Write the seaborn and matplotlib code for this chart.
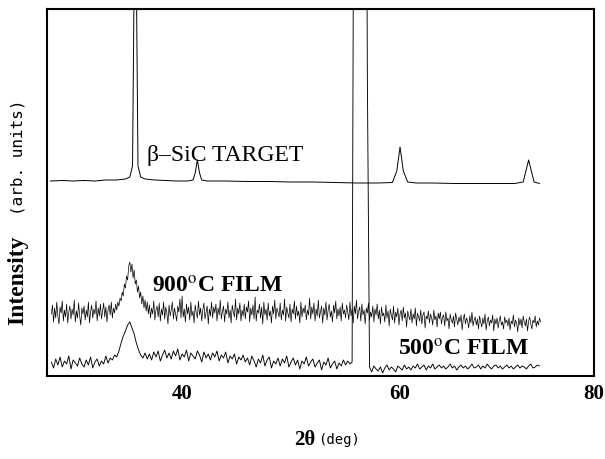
import numpy as np
import matplotlib
matplotlib.use("Agg")
import matplotlib.pyplot as plt
import seaborn as sns

# beta-SiC target pattern (offset baseline ~195)
target_2theta = [27.9, 29.0, 30.0, 31.0, 32.0, 33.0, 34.0, 34.8, 35.2, 35.45, 35.6, 35.7,
                 35.8, 35.95, 36.2, 36.6, 37.5, 38.5, 39.5, 40.5, 41.0, 41.2, 41.4, 41.6,
                 41.8, 42.3, 44.0, 46.0, 48.0, 50.0, 52.0, 54.0, 56.0, 58.0, 59.3, 59.7,
                 60.0, 60.3, 60.7, 61.5, 63.0, 65.0, 67.0, 69.0, 70.5, 71.3, 71.55, 71.8,
                 72.05, 72.3, 72.8]
target_int = [195, 195.5, 195, 195.5, 195, 196, 196, 197, 199, 210, 400, 1200,
              400, 210, 199, 197, 196, 195.5, 195, 195, 196, 203, 216, 203,
              196, 195, 195, 194.5, 194.5, 194, 194, 193.5, 193, 193, 193.5, 205,
              229, 205, 194, 193, 193, 192.5, 192.5, 192.5, 192.5, 194, 205, 216,
              205, 194, 192.5]

# 900 C film scan, 0.1 deg step from 28.0 to 72.9
film900_2theta = np.round(np.arange(28.0, 72.95, 0.1), 1)
film900 = [62, 71, 54, 68, 58, 74, 60, 52, 69, 63, 75, 55, 66, 59, 72, 53, 64, 70, 57, 67, 61, 76, 54, 65, 58, 73, 60, 51, 68, 62,
           70, 56, 66, 59, 74, 53, 64, 71, 58, 67, 62, 75, 55, 68, 60, 72, 57, 65, 73, 59, 69, 54, 66, 71, 61, 74, 58, 68, 63, 72,
           66, 74, 70, 78, 75, 84, 80, 92, 88, 100, 96, 110, 114, 104, 112, 98, 106, 92, 96, 84, 90, 78, 84, 72, 80, 68, 76, 65, 74, 62,
           71, 58, 68, 62, 75, 56, 66, 70, 59, 73, 55, 67, 61, 74, 57, 69, 63, 52, 71, 60, 66, 74, 57, 68, 62, 55, 70, 64, 77, 58,
           80, 59, 67, 54, 72, 62, 69, 56, 74, 60, 65, 53, 71, 63, 58, 75, 61, 68, 55, 66, 73, 57, 64, 70, 52, 67, 60, 74, 58, 69,
           63, 72, 55, 68, 61, 76, 57, 65, 70, 54, 67, 62, 74, 58, 66, 53, 71, 64, 59, 77, 56, 68, 62, 73, 55, 66, 60, 72, 57, 69,
           64, 75, 54, 68, 61, 71, 57, 79, 55, 66, 63, 72, 58, 69, 52, 74, 61, 67, 56, 73, 60, 65, 53, 70, 62, 76, 57, 68, 64, 59,
           73, 56, 66, 61, 77, 55, 69, 63, 58, 72, 54, 67, 62, 75, 57, 70, 60, 65, 53, 74, 59, 68, 63, 71, 56, 66, 61, 78, 57, 69,
           62, 73, 55, 67, 60, 76, 58, 64, 70, 53, 68, 61, 74, 56, 66, 72, 59, 65, 54, 71, 63, 75, 57, 67, 60, 69, 55, 73, 62, 66,
           58, 71, 64, 56, 74, 60, 67, 53, 70, 62, 76, 57, 65, 69, 55, 72, 61, 66, 52, 68, 63, 73, 56, 64, 59, 70, 54, 67, 61, 72,
           57, 66, 52, 69, 60, 63, 54, 71, 58, 65, 50, 67, 61, 56, 70, 53, 64, 59, 68, 51, 62, 66, 55, 69, 58, 63, 49, 65, 60, 56,
           67, 53, 62, 57, 68, 50, 63, 59, 55, 66, 52, 61, 64, 48, 60, 57, 65, 53, 62, 58, 51, 66, 56, 60, 49, 63, 57, 64, 52, 59,
           61, 50, 64, 55, 58, 47, 62, 56, 53, 60, 49, 63, 57, 51, 59, 54, 61, 46, 57, 62, 52, 58, 55, 48, 60, 53, 64, 50, 56, 59,
           51, 57, 47, 60, 54, 49, 58, 52, 62, 46, 55, 59, 50, 56, 53, 61, 45, 57, 52, 58, 48, 55, 60, 51, 54, 47, 59, 53, 56, 50,
           58, 46, 55, 52, 61, 49, 56, 53, 44, 58, 51, 57, 48, 60, 54, 50, 57, 45, 55, 59, 52, 47, 56, 53, 60, 49, 55, 51, 58, 54]

# 500 C film scan, 0.2 deg step from 28.0 to 72.8 (Si substrate peak near 56.3)
film500_2theta = np.round(np.arange(28.0, 72.81, 0.2), 1)
film500 = [14, 8, 17, 11, 19, 9, 15, 12, 20, 7, 16, 13, 10, 18, 12,
           9, 16, 11, 19, 8, 14, 17, 10, 15, 12, 20, 13, 18, 16, 21,
           19, 25, 33, 40, 45, 51, 54, 48, 42, 33, 26, 21, 18, 23, 17,
           22, 16, 24, 19, 25, 15, 21, 26, 18, 23, 17, 25, 20, 27, 16,
           22, 19, 26, 15, 23, 20, 17, 25, 21, 14, 24, 18, 22, 16, 23,
           19, 25, 15, 21, 18, 24, 13, 20, 17, 22, 12, 19, 16, 21, 14,
           18, 11, 20, 15, 9, 17, 13, 21, 10, 16, 19, 8, 15, 12, 18,
           10, 17, 13, 20, 9, 14, 18, 11, 16, 7, 15, 12, 19, 10, 14,
           17, 9, 13, 16, 6, 14, 11, 18, 8, 12, 15, 7, 13, 10, 16,
           11, 15, 12, 14, 700, 1300, 1500, 1500, 1300, 900, 300, 9, 4, 10, 7,
           5, 9, 3, 8, 11, 6, 9, 7, 4, 10, 8, 6, 11, 7, 9,
           6, 10, 8, 12, 7, 9, 11, 6, 10, 8, 12, 7, 9, 11, 8,
           10, 7, 9, 12, 8, 10, 6, 9, 11, 8, 10, 7, 9, 12, 8,
           9, 11, 7, 10, 8, 12, 9, 7, 10, 11, 8, 10, 7, 9, 11,
           8, 10, 7, 9, 11, 8, 10, 9, 7, 10, 12, 8, 9, 11, 10]

sns.set_style("white")
plt.rcParams["font.family"] = ["Liberation Serif", "DejaVu Serif"]
plt.rcParams["mathtext.fontset"] = "stix"
plt.rcParams["text.color"] = "black"
plt.rcParams["xtick.color"] = "black"

fig = plt.figure(figsize=(6.05, 4.59), dpi=100)
ax = fig.add_axes([47 / 605, 83 / 459, 547 / 605, 367 / 459])

traces = [(target_2theta, target_int, 0.7), (film900_2theta, film900, 0.5),
          (film500_2theta, film500, 0.65)]
for xs, ys, lw in traces:
    sns.lineplot(x=xs, y=ys, ax=ax, color="black", lw=lw, estimator=None, sort=False)

ax.set_xlim(27.6, 77.8)
ax.set_ylim(0, 367)
ax.set_yticks([])
ax.set_xticks([40, 60, 77.8], ["40", "60", "80"])
ax.tick_params(axis="x", direction="in", length=7, width=1.2, pad=6, labelsize=15)
for lab in ax.get_xticklabels():
    lab.set_fontweight("bold")
for sp in ax.spines.values():
    sp.set_linewidth(1.5)
    sp.set_color("black")


def px(x, y):
    # figure pixel (from top-left) -> figure fraction
    return x / 605, 1 - y / 459


fig.text(*px(147, 155), "β–SiC TARGET", fontsize=17, va="center", ha="left")
fig.text(*px(152, 287), r"900$^{\rm o}$C FILM", fontsize=17, fontweight="bold",
         va="center", ha="left")
fig.text(*px(398, 350), r"500$^{\rm o}$C FILM", fontsize=17, fontweight="bold",
         va="center", ha="left")

fig.text(*px(18, 280), "Intensity", rotation=90, fontsize=17, fontweight="bold",
         va="center", ha="center")
fig.text(*px(18, 157), "(arb. units)", rotation=90, fontsize=11.5,
         family="DejaVu Sans Mono", va="center", ha="center")
fig.text(*px(315, 440), "2θ", fontsize=15, fontweight="bold", va="center", ha="right")
fig.text(*px(318, 440), "(deg)", fontsize=10, family="DejaVu Sans Mono",
         va="center", ha="left")

fig.savefig("out.png", dpi=100)
